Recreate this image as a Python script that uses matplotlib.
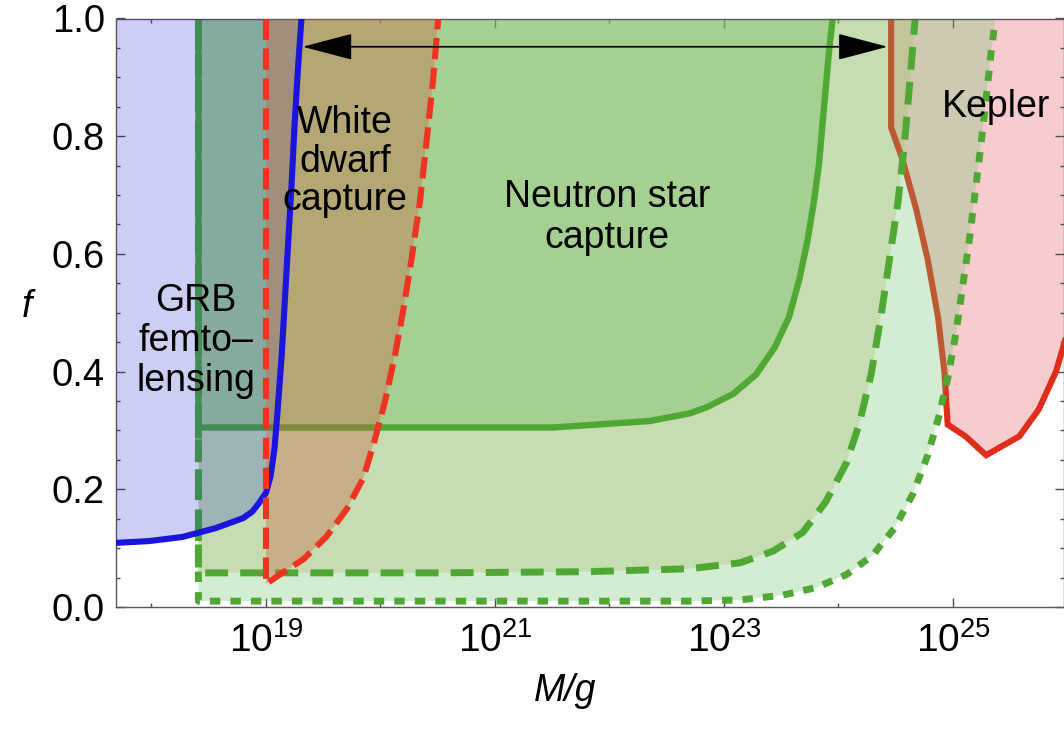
import numpy as np
import matplotlib
matplotlib.use("Agg")
import matplotlib.pyplot as plt
from matplotlib.ticker import FixedLocator, MultipleLocator, FormatStrFormatter

plt.rcParams['font.family'] = ['Liberation Sans', 'DejaVu Sans']
plt.rcParams['mathtext.fontset'] = 'custom'
plt.rcParams['mathtext.rm'] = 'Liberation Sans'
plt.rcParams['mathtext.it'] = 'Liberation Sans:italic'

# all masses as log10(M/g), f = fraction
# GRB femtolensing (blue), excluded above the curve
grb_logm = [17.69, 17.98, 18.27, 18.56, 18.80, 18.88, 18.94, 19.0, 19.04, 19.075,
            19.10, 19.137, 19.166, 19.195, 19.224, 19.25, 19.28, 19.31]
grb_f = [0.109, 0.112, 0.119, 0.134, 0.151, 0.162, 0.177, 0.194, 0.222, 0.27,
         0.33, 0.427, 0.525, 0.623, 0.72, 0.82, 0.917, 1.0]

# white dwarf capture (red dashed)
wd_logm = [19.0, 19.0, 19.12, 19.326, 19.53, 19.704, 19.85, 19.95, 20.04, 20.126,
           20.20, 20.27, 20.344, 20.40, 20.46, 20.505]
wd_f = [1.0, 0.039, 0.055, 0.081, 0.12, 0.166, 0.219, 0.284, 0.35, 0.427,
        0.506, 0.59, 0.688, 0.786, 0.897, 1.0]

# neutron star capture, three cases (solid, dashed, dotted)
ns_solid_logm = [18.41, 18.41, 21.5, 22.35, 22.70, 22.845, 23.08, 23.28, 23.44,
                 23.567, 23.66, 23.73, 23.785, 23.83, 23.86, 23.89, 23.92, 23.95]
ns_solid_f = [1.0, 0.305, 0.305, 0.316, 0.329, 0.339, 0.362, 0.395, 0.44,
              0.492, 0.558, 0.623, 0.688, 0.753, 0.819, 0.884, 0.949, 1.0]

ns_dash_logm = [18.41, 18.41, 20.5, 21.8, 22.70, 23.14, 23.43, 23.69, 23.89,
                24.07, 24.18, 24.285, 24.37, 24.445, 24.52, 24.576, 24.62, 24.67]
ns_dash_f = [1.0, 0.058, 0.058, 0.06, 0.065, 0.075, 0.095, 0.127, 0.179,
             0.245, 0.31, 0.395, 0.492, 0.59, 0.688, 0.786, 0.884, 1.0]

ns_dot_logm = [18.41, 18.41, 22.70, 23.14, 23.51, 23.805, 24.07, 24.30, 24.49,
               24.65, 24.78, 24.876, 24.954, 25.027, 25.085, 25.143, 25.196,
               25.245, 25.29, 25.33, 25.37]
ns_dot_f = [1.0, 0.01, 0.01, 0.012, 0.02, 0.033, 0.055, 0.088, 0.134,
            0.192, 0.258, 0.323, 0.388, 0.466, 0.545, 0.623, 0.708,
            0.786, 0.864, 0.936, 1.0]

# Kepler microlensing (red solid)
kep_logm = [24.46, 24.46, 24.56, 24.68, 24.78, 24.87, 24.925, 24.954, 25.11,
            25.29, 25.58, 25.75, 25.90, 25.96, 26.05, 26.05]
kep_f = [1.0, 0.815, 0.76, 0.675, 0.59, 0.492, 0.40, 0.31, 0.29,
         0.258, 0.29, 0.336, 0.40, 0.44, 0.5, 1.0]

arrow_logm = [19.32, 24.43]
arrow_f = 0.952

xmin, xmax = 17.69, 25.97
major_exp = [19, 21, 23, 25]
minor_exp = [18, 20, 22, 24, 26]

def m(a):
    return 10.0 ** np.array(a)

fig = plt.figure(figsize=(10.64, 7.35), dpi=100)
ax = fig.add_axes([116/1064, 128/735, 948/1064, 588.5/735])
ax.set_xscale('log')

green = '#4fa834'

ax.fill(m(kep_logm), kep_f, color=(232/255, 88/255, 98/255), alpha=0.3, lw=0, zorder=1)
ax.fill(m(ns_dash_logm), ns_dash_f, color=(189/255, 178/255, 89/255), alpha=0.3, lw=0, zorder=1.9)
# Kepler line sits under the dotted fill, which darkens its upper part
ax.plot(m(kep_logm[:-1]), kep_f[:-1], color='#e02c1a', lw=4.4, zorder=1.95,
        solid_joinstyle='miter')
ax.fill(m(ns_dot_logm), ns_dot_f, color=(112/255, 198/255, 112/255), alpha=0.3, lw=0, zorder=2)
ax.fill(m(ns_solid_logm), ns_solid_f, color=(95/255, 180/255, 75/255), alpha=0.3, lw=0, zorder=2.2)

ax.plot(m(ns_dot_logm), ns_dot_f, color=green, lw=5.0, ls=(0, (1.5, 1.45)), zorder=2.5)
ax.plot(m(ns_dash_logm), ns_dash_f, color=green, lw=5.0, ls=(0, (3.3, 1.75)), zorder=2.5)
ax.plot(m(ns_solid_logm), ns_solid_f, color=green, lw=4.6, zorder=2.5)

ax.fill_between(m(grb_logm), grb_f, 1.0, color=(17/255, 31/255, 207/255), alpha=0.21, lw=0, zorder=3)

ax.fill(m(wd_logm), wd_f, color=(205/255, 98/255, 67/255), alpha=0.37, lw=0, zorder=4)
ax.plot(m(grb_logm), grb_f, color='#1a14dc', lw=4.4, zorder=4.5)
ax.plot(m(wd_logm), wd_f, color='#ee3322', lw=4.4, ls=(0, (3.5, 1.4)), zorder=5)

ax.annotate('', xy=(m(arrow_logm[0]), arrow_f), xytext=(m(arrow_logm[1]), arrow_f),
            arrowprops=dict(arrowstyle='<|-|>,head_length=1.6,head_width=0.42',
                            mutation_scale=20, color='black', lw=1.2,
                            shrinkA=0, shrinkB=0), zorder=6)

tfs = 27
ax.text(m(18.39), 0.452, 'GRB\nfemto–\nlensing', ha='center', va='center',
        fontsize=tfs, linespacing=1.15, zorder=6)
ax.text(m(19.69), 0.757, 'White\ndwarf\ncapture', ha='center', va='center',
        fontsize=tfs, linespacing=1.1, zorder=6)
ax.text(m(21.98), 0.662, 'Neutron star\ncapture', ha='center', va='center',
        fontsize=tfs, linespacing=1.15, zorder=6)
ax.text(m(25.38), 0.849, 'Kepler', ha='center', va='center', fontsize=tfs, zorder=6)

ax.set_xlim(m(xmin), m(xmax))
ax.set_ylim(0, 1)

ax.xaxis.set_major_locator(FixedLocator(m(major_exp)))
ax.xaxis.set_minor_locator(FixedLocator(m(minor_exp)))
ax.set_xticklabels([r'$\mathregular{10^{%d}}$' % e for e in major_exp], fontsize=28)
ax.xaxis.set_minor_formatter(plt.NullFormatter())
ax.yaxis.set_major_locator(MultipleLocator(0.2))
ax.yaxis.set_minor_locator(MultipleLocator(0.05))
ax.yaxis.set_major_formatter(FormatStrFormatter('%.1f'))

ax.tick_params(which='both', direction='in', top=True, right=True, color='0.3', width=1)
ax.tick_params(which='major', length=6.5)
ax.tick_params(which='minor', length=3.2)
ax.tick_params(axis='y', labelsize=27.5, pad=8)
ax.tick_params(axis='x', pad=11)
for s in ax.spines.values():
    s.set_color('0.35')
    s.set_linewidth(1)

ax.set_xlabel('M/g', fontsize=27, style='italic')
ax.xaxis.set_label_coords(0.474, -0.112)
ax.set_ylabel('f', fontsize=27, style='italic', rotation=0, ha='center', va='center')
ax.yaxis.set_label_coords(-0.094, 0.51)

fig.savefig('out.png', dpi=100)
